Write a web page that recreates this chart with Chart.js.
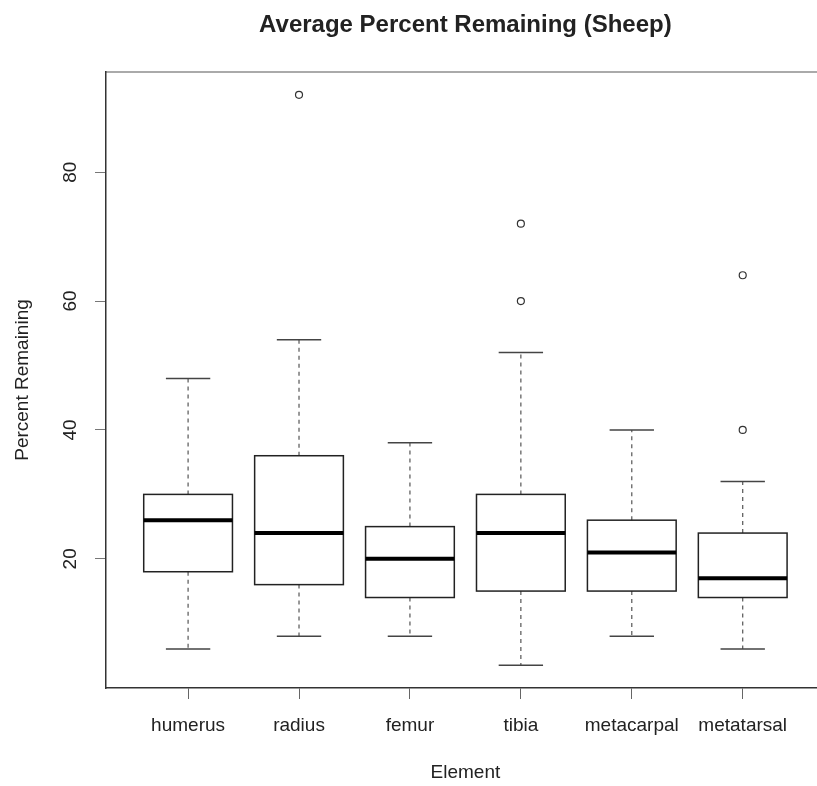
<!DOCTYPE html>
<html>
<head>
<meta charset="utf-8">
<script src="https://cdn.jsdelivr.net/npm/chart.js@4.4.1/dist/chart.umd.min.js"></script>
<style>
  html, body { margin: 0; padding: 0; background: #fff; overflow: hidden; }
  #wrap { width: 830px; height: 786px; position: relative; }
</style>
</head>
<body>
<div id="wrap"><canvas id="chart"></canvas></div>
<script>
// Box statistics per element
const categories = ['humerus', 'radius', 'femur', 'tibia', 'metacarpal', 'metatarsal'];
const whiskerLow = [6, 8, 8, 3.5, 8, 6];
const q1 = [18, 16, 14, 15, 15, 14];
const median = [26, 24, 20, 24, 21, 17];
const q3 = [30, 36, 25, 30, 26, 24];
const whiskerHigh = [48, 54, 38, 52, 40, 32];
const outliers = [[], [92], [], [60, 72], [], [40, 64]];
const yTicks = [20, 40, 60, 80];

const FONT = "'Liberation Sans', Arial, Helvetica, sans-serif";
const INK = '#222';

// R style axis range: data range plus 4% each side
const allVals = whiskerLow.concat(whiskerHigh, outliers.flat());
const lo = Math.min(...allVals), hi = Math.max(...allVals);
const ext = (hi - lo) * 0.04;
const xExt = categories.length * 0.04;
const xMin = 0.5 - xExt, xMax = categories.length + 0.5 + xExt;

const outlierPoints = [];
outliers.forEach((list, i) => {
    list.forEach(v => outlierPoints.push({ x: i + 1, y: v }));
});

const boxplotPlugin = {
    id: 'boxplot',
    beforeDatasetsDraw(chart) {
        const { ctx, scales: { x, y } } = chart;
        ctx.save();
        categories.forEach((name, i) => {
            const c = i + 1;
            const xl = x.getPixelForValue(c - 0.4);
            const xr = x.getPixelForValue(c + 0.4);
            const xc = x.getPixelForValue(c);
            const sl = x.getPixelForValue(c - 0.2);
            const sr = x.getPixelForValue(c + 0.2);
            const yLo = y.getPixelForValue(whiskerLow[i]);
            const yQ1 = y.getPixelForValue(q1[i]);
            const yMed = y.getPixelForValue(median[i]);
            const yQ3 = y.getPixelForValue(q3[i]);
            const yHi = y.getPixelForValue(whiskerHigh[i]);

            // whiskers (dashed)
            ctx.strokeStyle = '#555';
            ctx.lineWidth = 1.2;
            ctx.setLineDash([4, 4]);
            ctx.beginPath();
            ctx.moveTo(xc, yQ3); ctx.lineTo(xc, yHi);
            ctx.moveTo(xc, yQ1); ctx.lineTo(xc, yLo);
            ctx.stroke();
            ctx.setLineDash([]);

            // staples
            ctx.strokeStyle = '#444';
            ctx.lineWidth = 1.5;
            ctx.beginPath();
            ctx.moveTo(sl, yHi); ctx.lineTo(sr, yHi);
            ctx.moveTo(sl, yLo); ctx.lineTo(sr, yLo);
            ctx.stroke();

            // box
            ctx.strokeStyle = INK;
            ctx.lineWidth = 1.5;
            ctx.strokeRect(xl, yQ3, xr - xl, yQ1 - yQ3);

            // median
            ctx.strokeStyle = '#000';
            ctx.lineWidth = 4;
            ctx.beginPath();
            ctx.moveTo(xl, yMed); ctx.lineTo(xr, yMed);
            ctx.stroke();
        });
        ctx.restore();
    }
};

new Chart(document.getElementById('chart'), {
    type: 'scatter',
    data: {
        datasets: [{
            label: 'outliers',
            data: outlierPoints,
            pointRadius: 3.5,
            pointBorderWidth: 1.2,
            pointBorderColor: '#333',
            pointBackgroundColor: '#fff'
        }]
    },
    options: {
        responsive: true,
        maintainAspectRatio: false,
        animation: false,
        layout: { padding: 0 },
        plugins: {
            legend: { display: false },
            tooltip: { enabled: false },
            title: { display: false }
        },
        scales: {
            // top axis: carries the main title (centred over the plot) and the top frame line
            x2: {
                type: 'linear',
                position: 'top',
                min: xMin,
                max: xMax,
                afterFit: scale => { scale.height = 72; },
                ticks: { display: false },
                grid: { display: false },
                border: { display: true, color: '#aaa', width: 2 },
                title: {
                    display: true,
                    text: 'Average Percent Remaining (Sheep)',
                    color: INK,
                    font: { family: FONT, size: 24, weight: 'bold' },
                    padding: { top: 11, bottom: 0 }
                }
            },
            x: {
                type: 'linear',
                position: 'bottom',
                min: xMin,
                max: xMax,
                afterBuildTicks: scale => {
                    scale.ticks = categories.map((c, i) => ({ value: i + 1 }));
                },
                afterFit: scale => { scale.height = 98; },
                ticks: {
                    color: INK,
                    font: { family: FONT, size: 19 },
                    padding: 15,
                    maxRotation: 0,
                    autoSkip: false,
                    callback: v => categories[v - 1]
                },
                grid: { display: true, drawOnChartArea: false, drawTicks: true, tickLength: 11, color: '#666' },
                border: { display: true, color: '#333', width: 1.5 },
                title: {
                    display: true,
                    text: 'Element',
                    color: INK,
                    font: { family: FONT, size: 19 },
                    padding: { top: 0, bottom: 2 }
                }
            },
            y: {
                type: 'linear',
                min: lo - ext,
                max: hi + ext,
                afterBuildTicks: scale => {
                    scale.ticks = yTicks.map(v => ({ value: v }));
                },
                afterFit: scale => { scale.width = 106; },
                ticks: {
                    color: INK,
                    font: { family: FONT, size: 19 },
                    padding: 14,
                    minRotation: 90,
                    maxRotation: 90,
                    crossAlign: 'center',
                    autoSkip: false
                },
                grid: { display: true, drawOnChartArea: false, drawTicks: true, tickLength: 11, color: '#777' },
                border: { display: true, color: '#333', width: 1.5 },
                title: {
                    display: true,
                    text: 'Percent Remaining',
                    color: INK,
                    font: { family: FONT, size: 19 },
                    padding: { top: 11, bottom: 0 }
                }
            }
        }
    },
    plugins: [boxplotPlugin]
});
</script>
</body>
</html>
